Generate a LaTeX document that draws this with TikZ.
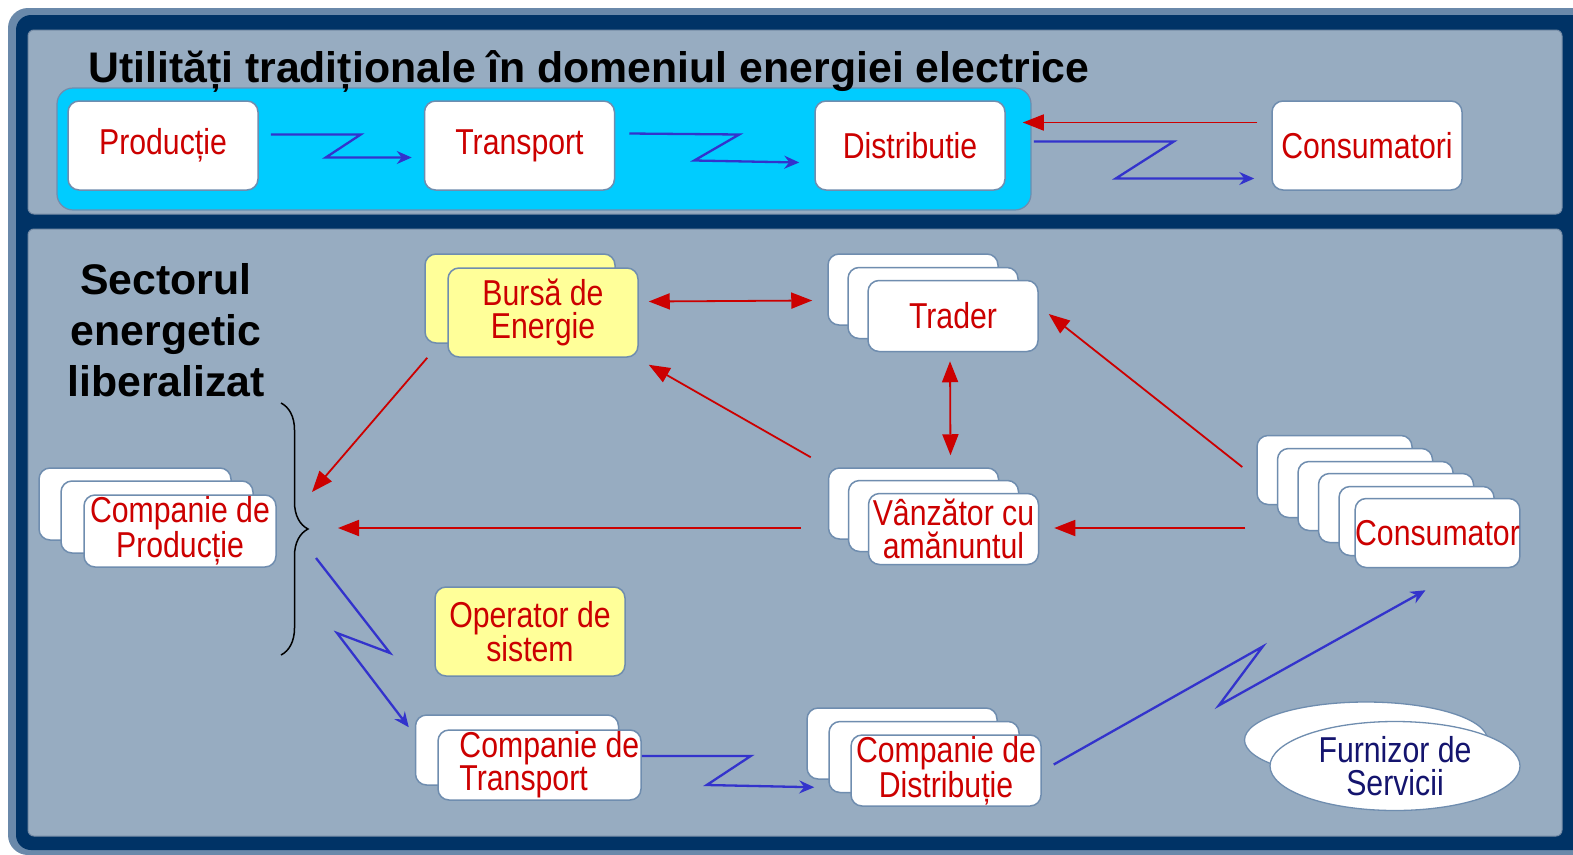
\documentclass[tikz,border=0pt]{standalone}
\usepackage{fontspec}
\setmainfont{Liberation Sans}
\newfontfamily\narrowf[FakeStretch=0.84]{Liberation Sans}
\usetikzlibrary{arrows.meta,calc,decorations.pathreplacing,shapes.geometric}
\definecolor{navy}{RGB}{0,51,102}
\definecolor{rim}{RGB}{106,137,170}
\definecolor{panel}{RGB}{151,172,193}
\definecolor{paneledge}{RGB}{118,140,166}
\definecolor{cyanbox}{RGB}{0,204,255}
\definecolor{boxline}{RGB}{111,141,175}
\definecolor{lbl}{RGB}{204,0,0}
\definecolor{zig}{RGB}{51,51,204}
\definecolor{yel}{RGB}{255,255,153}
\definecolor{furncol}{RGB}{20,20,110}
\newcommand\cardfont{\narrowf\fontsize{36}{33}\selectfont}
\begin{document}
\begin{tikzpicture}[x=1pt,y=-1pt,
  card/.style={draw=boxline, line width=1.5pt, fill=white, rounded corners=11pt,
    inner sep=0pt, font=\cardfont, text=lbl, align=center},
  ycard/.style={card, fill=yel},
  lbltext/.style={font=\cardfont, text=lbl, align=left, inner sep=0pt},
  redarrow/.style={draw=lbl, line width=1.8pt, -{Triangle[length=21pt,width=16pt]}},
  redboth/.style={draw=lbl, line width=1.8pt, {Triangle[length=21pt,width=16pt]}-{Triangle[length=21pt,width=16pt]}},
  bluearrow/.style={draw=zig, line width=2.3pt, line join=miter, -{Stealth[length=15pt,width=13pt,inset=5pt]}},
  bigtitle/.style={font=\bfseries\fontsize{42.8}{51}\selectfont, text=black, inner sep=0pt}
]
\useasboundingbox (0,0) rectangle (1573,854);
\fill[white] (0,0) rectangle (1573,854);
% frame
\fill[rim, rounded corners=20pt] (8,8) rectangle (1640,855);
\fill[navy, rounded corners=15pt] (16,15) rectangle (1640,850);
\filldraw[fill=panel, draw=paneledge, line width=1pt, rounded corners=6pt] (28,30) rectangle (1562,214);
\filldraw[fill=panel, draw=paneledge, line width=1pt, rounded corners=6pt] (28,229) rectangle (1562,836);
% cyan band
\filldraw[fill=cyanbox, draw=boxline, line width=1.2pt, rounded corners=16pt] (57,88) rectangle (1031,210);

% title
\node[bigtitle, anchor=base west] (title) at (88,82) {Utilități tradiționale în domeniul energiei electrice};

% top row
\node[card, minimum width=190pt, minimum height=89pt] (prod) at (163,145.5) {Producție};
\node[card, minimum width=190pt, minimum height=89pt] (trans) at (519.5,145.5) {Transport};
\node[card, minimum width=190pt, minimum height=89pt] (distr) at (910,145.5) {Distributie};
\node[card, minimum width=190pt, minimum height=89pt] (cons) at (1367,145.5) {Consumatori};

\draw[redarrow] ($(cons.west)+(-14,-23)$) -- ($(distr.east)+(17,-23)$);
\draw[bluearrow] ($(prod.east)+(12,-11)$) -- ++(90,0) -- ++(-35,23) -- ($(trans.west)+(-12,12)$);
\draw[bluearrow] ($(trans.east)+(14,-12)$) -- ++(110,1) -- ++(-45,26) -- ($(distr.west)+(-15,17)$);
\draw[bluearrow] ($(distr.east)+(28,-4)$) -- ++(140,0) -- ++(-58,37) -- ($(cons.west)+(-17,33)$);

% liberalized sector
\node[bigtitle, align=center] (sector) at (166,330) {Sectorul\\energetic\\liberalizat};
\draw[decorate, decoration={brace, amplitude=27pt}, line width=1.5pt, black] (281,403) -- (281,655);
\coordinate (gen) at (308,528);

% Bursa
\node[ycard, minimum width=190pt, minimum height=89pt] (bursaB) at (520,298.5) {};
\node[ycard, minimum width=190pt, minimum height=89pt] (bursa) at (543,312.5) {Bursă de\\Energie};
% Trader
\node[card, minimum width=170pt, minimum height=71pt] (traderC) at (913,289.5) {};
\node[card, minimum width=170pt, minimum height=71pt] (traderB) at (933,303) {};
\node[card, minimum width=170pt, minimum height=71pt] (trader) at (953,316) {Trader};
% Companie de Productie
\node[card, minimum width=192pt, minimum height=72pt] (cprodC) at (135,504) {};
\node[card, minimum width=192pt, minimum height=72pt] (cprodB) at (157,517) {};
\node[card, minimum width=192pt, minimum height=72pt] (cprod) at (180,531) {Companie de\\Producție};
% Vanzator
\node[card, minimum width=170pt, minimum height=71pt] (vanzC) at (913.5,503.5) {};
\node[card, minimum width=170pt, minimum height=71pt] (vanzB) at (933.5,516) {};
\node[card, minimum width=170pt, minimum height=71pt] (vanz) at (953.5,529) {Vânzător cu\\amănuntul};
% Consumator stack
\node[card, minimum width=155pt, minimum height=69pt] (consA) at (1334.5,470) {};
\node[card, minimum width=155pt, minimum height=69pt] (consB) at (1355,483) {};
\node[card, minimum width=155pt, minimum height=69pt] (consC) at (1375.5,496) {};
\node[card, minimum width=155pt, minimum height=69pt] (consD) at (1396,508) {};
\node[card, minimum width=155pt, minimum height=69pt] (consE) at (1416.5,521) {};
\node[card, minimum width=155pt, minimum height=69pt] (consum) at (1437.5,533) {Consumator};
% Operator
\node[ycard, minimum width=190pt, minimum height=89pt] (oper) at (530,631.5) {Operator de\\sistem};
% Companie de Transport
\node[card, minimum width=203pt, minimum height=70pt] (ctransB) at (517,750) {};
\node[card, minimum width=203pt, minimum height=70pt] (ctrans) at (539.5,765) {};
\node[lbltext, anchor=west] (ctranstext) at ($(ctrans.west)+(22,0)$) {Companie de\\Transport};
% Companie de Distributie
\node[card, minimum width=190pt, minimum height=71pt] (cdistC) at (902,743.5) {};
\node[card, minimum width=190pt, minimum height=71pt] (cdistB) at (924,757) {};
\node[card, minimum width=190pt, minimum height=71pt] (cdist) at (946,770.5) {Companie de\\Distribuție};
% Furnizor
\node[ellipse, draw=boxline, fill=white, line width=1.3pt, minimum width=243pt, minimum height=76pt] (furnB) at (1366,740) {};
\node[ellipse, draw=boxline, fill=white, line width=1.3pt, minimum width=250pt, minimum height=89pt,
  inner sep=0pt, font=\cardfont, text=furncol, align=center] (furn) at (1395,766) {Furnizor de\\Servicii};

% red connectors
\draw[redarrow] ($(bursa.south west)+(-20,0)$) -- ($(gen)+(4,-36)$);
\draw[redboth] ($(bursa.east)+(10,-11)$) -- ($(traderC.west)+(-15,11)$);
\draw[redboth] ($(trader.south)+(-3,9)$) -- ($(vanzC.north)+(37,-12)$);
\draw[redarrow] ($(vanzC.north west)+(-17,-10)$) -- ($(bursa.south east)+(10,7)$);
\draw[redarrow] ($(consA.west)+(-14,-3)$) -- ($(trader.east)+(10,-2)$);
\draw[redarrow] ($(consum.west)+(-109,-5)$) -- ($(vanz.east)+(15,-1)$);
\draw[redarrow] ($(vanz.west)+(-67,-1)$) -- ($(gen)+(30,0)$);

% blue connectors
\draw[bluearrow] ($(gen)+(8,30)$) -- ++(74,95) -- ++(-53,-20) -- ($(ctransB.north west)+(-6,13)$);
\draw[bluearrow] ($(ctrans.east)+(0,-9)$) -- ++(109,0) -- ++(-44,29) -- ($(cdistB.south west)+(-14,-6)$);
\draw[bluearrow] ($(cdist.east)+(12,-6)$) -- ++(209,-118) -- ++(-44,59) -- ($(consum.south)+(-12,22)$);
\end{tikzpicture}
\end{document}
